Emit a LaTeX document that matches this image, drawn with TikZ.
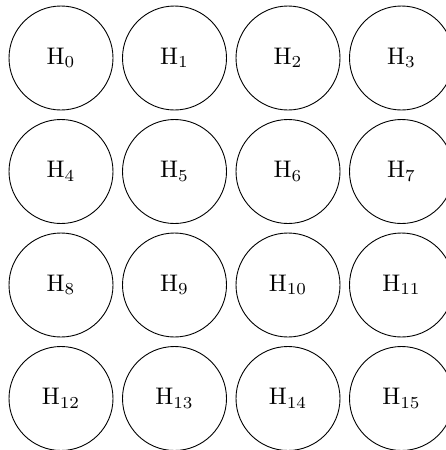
\documentclass[tikz,border=0pt]{standalone}
\usepackage{graphicx}
\begin{document}
\begin{tikzpicture}[x=1pt,y=-1pt,
  hcell/.style={circle,draw,line width=0.9pt,minimum size=104pt,inner sep=0pt}]
\useasboundingbox (0,0) rectangle (445,450);
\foreach \r in {0,1,2,3}{
  \foreach \c in {0,1,2,3}{
    \pgfmathtruncatemacro{\k}{4*\r+\c}
    \node[hcell] (h\k) at ({61+113.5*\c},{58+113.5*\r}) {\scalebox{2.4}{H$_{\k}$}};
  }
}
\end{tikzpicture}
\end{document}
